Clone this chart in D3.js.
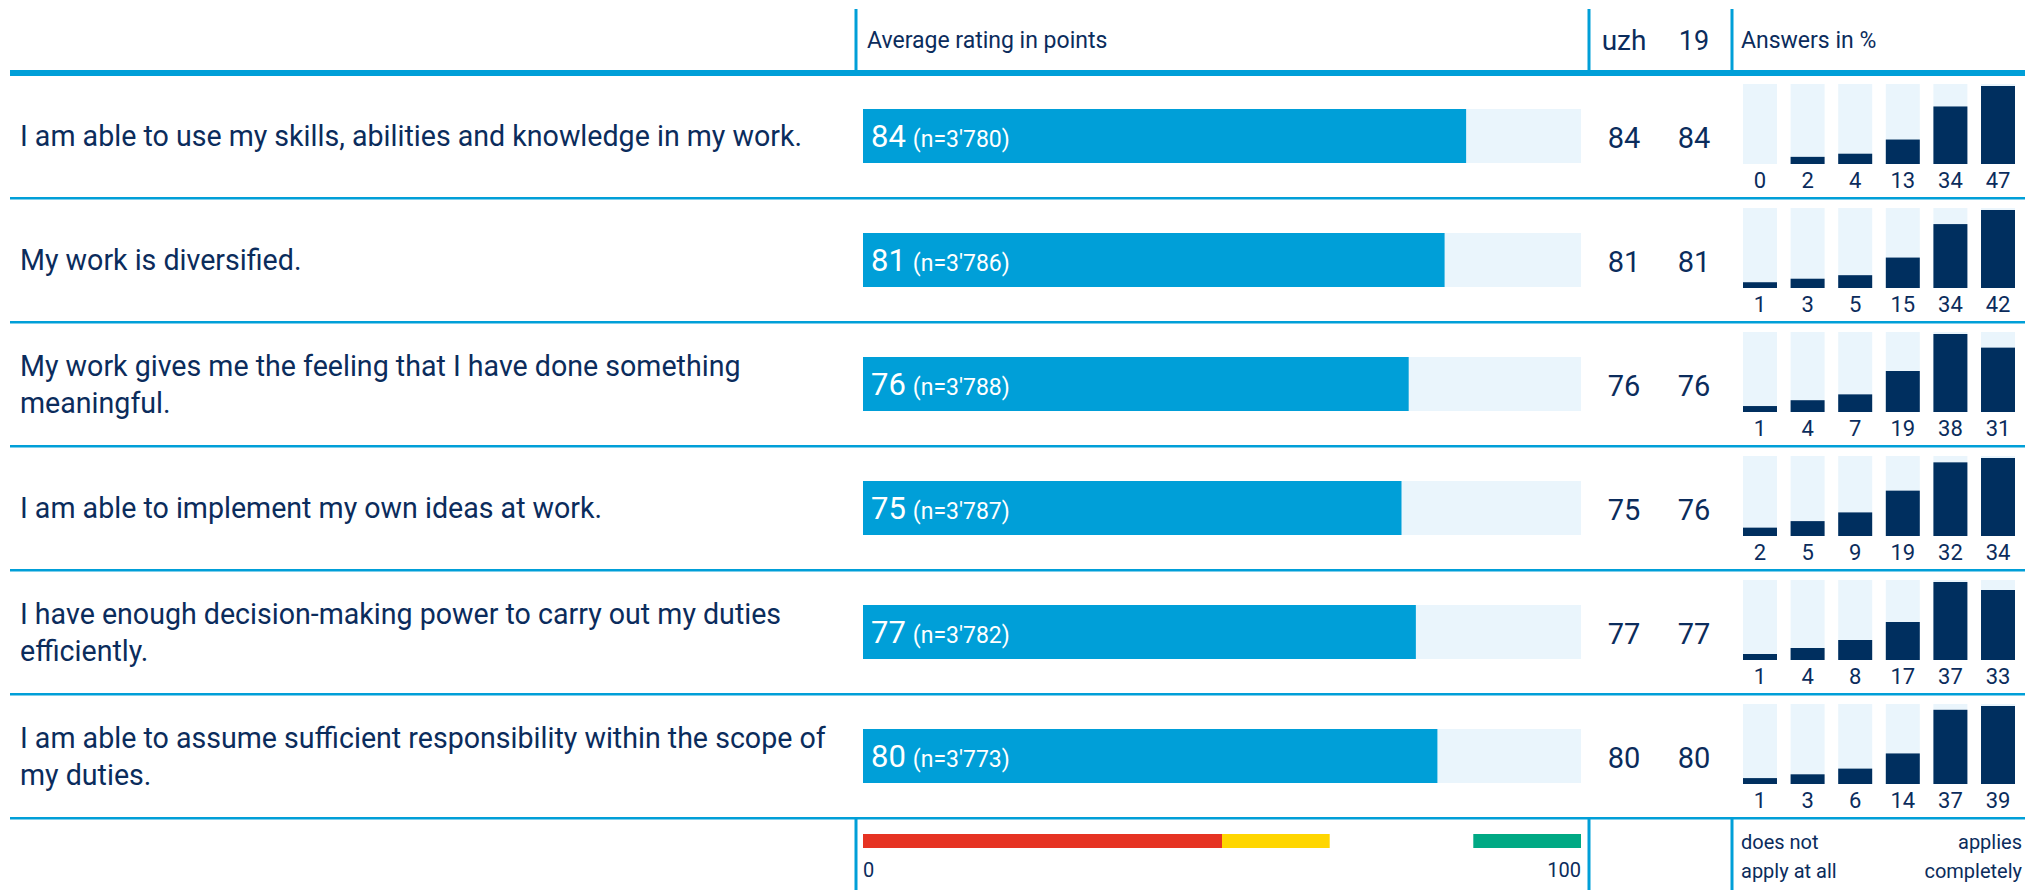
<!DOCTYPE html>
<html>
<head>
<meta charset="utf-8">
<script src="https://cdn.jsdelivr.net/npm/d3@7"></script>
<style>
  body { margin: 0; background: #fff; }
  text { font-family: Roboto, "Noto Sans", sans-serif; fill: #0b2c5c; }
</style>
</head>
<body>
<div id="canvas"></div>
<script>
// chart data
var questions = [
  "I am able to use my skills, abilities and knowledge in my work.",
  "My work is diversified.",
  "My work gives me the feeling that I have done something meaningful.",
  "I am able to implement my own ideas at work.",
  "I have enough decision-making power to carry out my duties efficiently.",
  "I am able to assume sufficient responsibility within the scope of my duties.",
];
var avgRating = [84, 81, 76, 75, 77, 80];
var answerCount = ["3'780", "3'786", "3'788", "3'787", "3'782", "3'773"];
var uzhValues = [84, 81, 76, 75, 77, 80];
var y19Values = [84, 81, 76, 76, 77, 80];
var answers = [
  [0, 2, 4, 13, 34, 47],
  [1, 3, 5, 15, 34, 42],
  [1, 4, 7, 19, 38, 31],
  [2, 5, 9, 19, 32, 34],
  [1, 4, 8, 17, 37, 33],
  [1, 3, 6, 14, 37, 39],
];
var answerSteps = [0, 1, 2, 3, 4, 5];
var bandStops = [0, 50, 65, 85, 100];
var bandColors = ["#e63323", "#ffd600", null, "#00a984"];

var width = 2044,
  height = 890;
var blue = "#009fd8",
  light = "#eaf5fc",
  navy = "#002f5f";

var svg = d3
  .select("#canvas")
  .append("svg")
  .attr("width", width)
  .attr("height", height);

// row layout
var rowY = d3.scaleBand().domain(d3.range(questions.length)).range([74, 818]);
var x = d3.scaleLinear().domain([0, 100]).range([863, 1581]);
var colX = { uzh: 1624, y19: 1694 };
var miniX = d3.scaleBand().domain(answerSteps).range([1743, 2015]).paddingInner(0.286).paddingOuter(0);

// header
svg.append("rect").attr("x", 10).attr("y", 70).attr("width", 2015).attr("height", 6).attr("fill", blue);
[856, 1589, 1732].forEach((vx) => {
  svg.append("rect").attr("x", vx - 1.5).attr("y", 9).attr("width", 3).attr("height", 62).attr("fill", blue);
  svg.append("rect").attr("x", vx - 1.5).attr("y", 817).attr("width", 3).attr("height", 73).attr("fill", blue);
});
svg.append("text").attr("x", 867).attr("y", 48).attr("font-size", 23).text("Average rating in points");
svg.append("text").attr("x", colX.uzh).attr("y", 50).attr("font-size", 28).attr("text-anchor", "middle").text("uzh");
svg.append("text").attr("x", colX.y19).attr("y", 50).attr("font-size", 27).attr("text-anchor", "middle").text("19");
svg.append("text").attr("x", 1741).attr("y", 48).attr("font-size", 23).text("Answers in %");

var rows = svg
  .selectAll("g.row")
  .data(questions)
  .enter()
  .append("g")
  .attr("class", "row")
  .attr("transform", (d, i) => "translate(0," + rowY(i) + ")");

var bh = rowY.bandwidth();

// separators
rows.append("rect").attr("x", 10).attr("y", bh - 1).attr("width", 2015).attr("height", 2.5).attr("fill", blue);

// question labels, wrapped
rows.each(function (d) {
  var g = d3.select(this);
  var t = g.append("text").attr("x", 20).attr("font-size", 28.6);
  var words = d.split(" "),
    lines = [],
    line = [];
  var probe = t.append("tspan");
  words.forEach((w) => {
    line.push(w);
    probe.text(line.join(" "));
    if (probe.node().getComputedTextLength() > 845 && line.length > 1) {
      line.pop();
      lines.push(line.join(" "));
      line = [w];
    }
  });
  lines.push(line.join(" "));
  probe.remove();
  var lh = 37;
  var y0 = bh / 2 + 10 - ((lines.length - 1) * lh) / 2;
  lines.forEach((l, k) => {
    t.append("tspan").attr("x", 20).attr("y", y0 + k * lh).text(l);
  });
});

// average rating bars
rows.append("rect").attr("x", x(0)).attr("y", 35).attr("width", x(100) - x(0)).attr("height", 54).attr("fill", light);
rows
  .append("rect")
  .attr("x", x(0))
  .attr("y", 35)
  .attr("width", (d, i) => x(avgRating[i]) - x(0))
  .attr("height", 54)
  .attr("fill", blue);
var lab = rows.append("text").attr("x", x(0) + 8).attr("y", 73);
lab.append("tspan").attr("font-size", 31).style("fill", "#fff").text((d, i) => avgRating[i]);
lab.append("tspan").attr("font-size", 23).style("fill", "#fff").attr("dx", 7).text((d, i) => "(n=" + answerCount[i] + ")");

// uzh / 19 columns
rows.append("text").attr("x", colX.uzh).attr("y", 74).attr("font-size", 29).attr("text-anchor", "middle").text((d, i) => uzhValues[i]);
rows.append("text").attr("x", colX.y19).attr("y", 74).attr("font-size", 29).attr("text-anchor", "middle").text((d, i) => y19Values[i]);

// answer distribution mini bars
var miniTop = 10,
  miniH = 80;
rows.each(function (d, i) {
  var g = d3.select(this);
  var vals = answers[i];
  var hy = d3.scaleLinear().domain([0, d3.max(vals)]).range([4, miniH - 2]);
  var cells = g
    .selectAll("g.cell")
    .data(vals)
    .enter()
    .append("g")
    .attr("class", "cell")
    .attr("transform", (v, j) => "translate(" + miniX(j) + ",0)");
  cells.append("rect").attr("y", miniTop).attr("width", miniX.bandwidth()).attr("height", miniH).attr("fill", light);
  cells
    .append("rect")
    .attr("y", (v) => miniTop + miniH - (v > 0 ? hy(v) : 0))
    .attr("width", miniX.bandwidth())
    .attr("height", (v) => (v > 0 ? hy(v) : 0))
    .attr("fill", navy);
  cells
    .append("text")
    .attr("x", miniX.bandwidth() / 2)
    .attr("y", 114)
    .attr("font-size", 22)
    .attr("text-anchor", "middle")
    .text((v) => v);
});

// footer legend
bandColors.forEach((c, k) => {
  if (!c) return;
  svg
    .append("rect")
    .attr("x", x(bandStops[k]))
    .attr("y", 834)
    .attr("width", x(bandStops[k + 1]) - x(bandStops[k]))
    .attr("height", 14)
    .attr("fill", c);
});
svg.append("text").attr("x", x(0)).attr("y", 877).attr("font-size", 20).text("0");
svg.append("text").attr("x", x(100)).attr("y", 877).attr("font-size", 20).attr("text-anchor", "end").text("100");
svg.append("text").attr("x", 1741).attr("y", 849).attr("font-size", 20).text("does not");
svg.append("text").attr("x", 1741).attr("y", 878).attr("font-size", 20).text("apply at all");
svg.append("text").attr("x", 2022).attr("y", 849).attr("font-size", 20).attr("text-anchor", "end").text("applies");
svg.append("text").attr("x", 2022).attr("y", 878).attr("font-size", 20).attr("text-anchor", "end").text("completely");
</script>
</body>
</html>
